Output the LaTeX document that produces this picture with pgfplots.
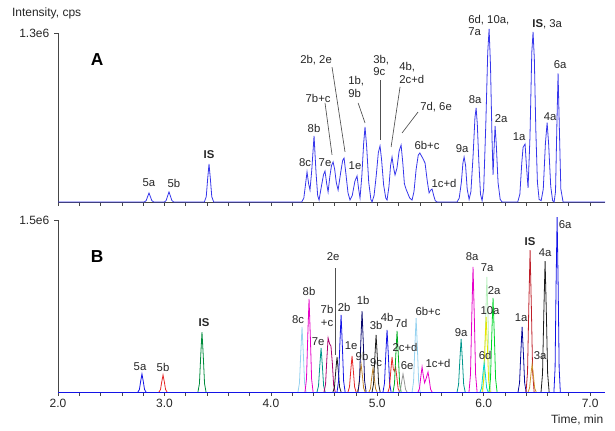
\documentclass[border=0pt]{standalone}
\usepackage{pgfplots}
\pgfplotsset{compat=1.18}
\usepackage{fontspec}
\setmainfont{Liberation Sans}
\definecolor{trA}{RGB}{55,55,235}
\definecolor{axc}{RGB}{70,70,70}
\definecolor{lead}{RGB}{80,80,80}
\definecolor{cblue}{RGB}{20,20,230}
\definecolor{cred}{RGB}{230,40,40}
\definecolor{cisg}{RGB}{0,140,60}
\definecolor{clblue}{RGB}{150,210,240}
\definecolor{cmag}{RGB}{230,0,200}
\definecolor{cteal}{RGB}{0,150,140}
\definecolor{cpurp}{RGB}{170,0,110}
\definecolor{cbrown}{RGB}{190,130,40}
\definecolor{cnavy}{RGB}{10,10,110}
\definecolor{cgray}{RGB}{150,150,150}
\definecolor{ccyan}{RGB}{0,215,215}
\definecolor{cyel}{RGB}{230,230,0}
\definecolor{cpale}{RGB}{185,240,190}
\definecolor{cgreen}{RGB}{0,215,40}
\definecolor{cdred}{RGB}{190,30,40}
\definecolor{corange}{RGB}{205,150,50}
\definecolor{cblk}{RGB}{30,30,30}

\tikzset{
  lbl/.style={font=\fontsize{8.5}{9.5}\selectfont, text=black!85, inner sep=0pt},
  pk/.style={line width=0.6pt},
}
\pgfplotsset{
  chrom/.style={
    scale only axis, width=410.25pt,
    xmin=2.0, xmax=7.14, ymin=0,
    axis x line=bottom, axis y line=left,
    axis line style={axc,-, line width=0.6pt},
    xtick={2,3,4,5,6,7}, minor x tick num=4,
    tick align=outside, tick style={axc, line width=0.5pt},
    major tick length=3pt, minor tick length=3pt,
    clip=false,
    tick label style={font=\fontsize{9}{10}\selectfont, text=black!85},
    xticklabel style={yshift=1.2pt},
  },
}

\begin{document}
\begin{tikzpicture}
\path[use as bounding box] (0,0) rectangle (461.25pt,323.25pt);
\node[anchor=west, font=\fontsize{9}{10}\selectfont, text=black!85] at (5.5pt,313.5pt) {Intensity, cps};
\node[anchor=east, font=\fontsize{9}{10}\selectfont, text=black!85] at (456pt,8.5pt) {Time, min};

% ---------------- Panel A ----------------
\begin{axis}[chrom, at={(43.5pt,171.75pt)}, anchor=south west,
  height=126.75pt, ymax=1.3,
  xticklabels={}, ytick={1.3}, yticklabels={1.3e6}]
\addplot[trA, line width=0.6pt] coordinates {
(2.0,0)(2.81,0)(2.828,0.01)(2.842,0.041)(2.855,0.069)(2.868,0.041)(2.882,0.01)(2.90,0)
(3.0,0)(3.016,0.011)(3.030,0.046)(3.043,0.077)(3.056,0.046)(3.070,0.011)(3.088,0)
(3.375,0)(3.393,0.041)(3.406,0.175)(3.419,0.292)(3.432,0.175)(3.445,0.041)(3.463,0)
(4.29,0)(4.31,0.03)(4.325,0.13)(4.34,0.231)(4.355,0.14)(4.368,0.092)(4.385,0.25)(4.406,0.508)
(4.425,0.22)(4.44,0.05)(4.453,0.015)(4.475,0.12)(4.495,0.21)(4.509,0.238)(4.525,0.14)(4.538,0.077)
(4.555,0.2)(4.57,0.28)(4.585,0.308)(4.60,0.25)(4.615,0.15)(4.632,0.092)(4.655,0.22)(4.675,0.32)
(4.688,0.338)(4.705,0.22)(4.725,0.07)(4.744,0.015)(4.765,0.05)(4.79,0.16)(4.81,0.20)(4.825,0.1)
(4.838,0.03)(4.855,0.2)(4.872,0.45)(4.885,0.577)(4.90,0.43)(4.92,0.15)(4.94,0.02)(4.951,0)
(4.97,0.05)(4.99,0.2)(5.01,0.38)(5.026,0.431)(5.04,0.33)(5.06,0.13)(5.08,0.03)(5.092,0.015)
(5.11,0.12)(5.125,0.28)(5.139,0.346)(5.152,0.27)(5.167,0.208)(5.185,0.26)(5.205,0.39)(5.224,0.438)
(5.24,0.3)(5.255,0.14)(5.27,0.1)(5.285,0.07)(5.305,0.03)(5.327,0.015)(5.345,0.08)(5.365,0.25)
(5.385,0.36)(5.40,0.377)(5.425,0.34)(5.449,0.30)(5.47,0.16)(5.487,0.07)(5.50,0.09)(5.515,0.10)
(5.53,0.05)(5.545,0.01)(5.562,0)
(5.75,0)(5.77,0.03)(5.79,0.15)(5.805,0.3)(5.816,0.346)(5.83,0.28)(5.845,0.1)(5.863,0.02)
(5.88,0.08)(5.90,0.35)(5.918,0.65)(5.929,0.723)(5.94,0.6)(5.955,0.3)(5.97,0.06)(5.985,0.01)
(6.0,0.1)(6.02,0.6)(6.038,1.15)(6.051,1.331)(6.064,1.05)(6.078,0.5)(6.088,0.208)(6.097,0.4)
(6.107,0.585)(6.118,0.45)(6.135,0.15)(6.155,0.02)(6.173,0)(6.32,0)(6.34,0.06)(6.358,0.3)
(6.370,0.42)(6.389,0.446)(6.40,0.3)(6.417,0.108)(6.435,0.5)(6.452,1.15)(6.464,1.308)(6.476,1.1)
(6.49,0.55)(6.505,0.15)(6.521,0.02)(6.54,0.01)(6.56,0.1)(6.58,0.45)(6.596,0.61)(6.61,0.45)
(6.63,0.12)(6.648,0.01)(6.662,0)(6.675,0.08)(6.688,0.6)(6.699,0.99)(6.71,0.6)(6.725,0.1)
(6.746,0)(7.14,0)};
% leader lines
\draw[lead, line width=0.5pt] (axis cs:4.509,0.762) -- (axis cs:4.575,0.362);
\draw[lead, line width=0.5pt] (axis cs:4.575,1.038) -- (axis cs:4.697,0.385);
\draw[lead, line width=0.5pt] (axis cs:4.82,0.762) -- (axis cs:4.885,0.608);
\draw[lead, line width=0.5pt] (axis cs:5.026,0.938) -- (axis cs:5.026,0.477);
\draw[lead, line width=0.5pt] (axis cs:5.214,0.885) -- (axis cs:5.130,0.423);
\draw[lead, line width=0.5pt] (axis cs:5.383,0.692) -- (axis cs:5.233,0.531);
% labels
\node[font=\fontsize{13}{14}\selectfont\bfseries] at (axis cs:2.367,1.092) {A};
\node[lbl] at (axis cs:2.855,0.146) {5a};
\node[lbl] at (axis cs:3.09,0.146) {5b};
\node[lbl, font=\fontsize{8.5}{9.5}\selectfont\bfseries] at (axis cs:3.419,0.362) {IS};
\node[lbl] at (axis cs:4.321,0.30) {8c};
\node[lbl] at (axis cs:4.406,0.569) {8b};
\node[lbl] at (axis cs:4.509,0.30) {7e};
\node[lbl] at (axis cs:4.444,0.80) {7b+c};
\node[lbl] at (axis cs:4.425,1.092) {2b, 2e};
\node[lbl, anchor=west, align=left] at (axis cs:4.726,0.885) {1b,\\9b};
\node[lbl] at (axis cs:4.791,0.277) {1e};
\node[lbl, anchor=west, align=left] at (axis cs:4.961,1.05) {3b,\\9c};
\node[lbl, anchor=west, align=left] at (axis cs:5.205,0.992) {4b,\\2c+d};
\node[lbl, anchor=west] at (axis cs:5.402,0.731) {7d, 6e};
\node[lbl] at (axis cs:5.468,0.438) {6b+c};
\node[lbl] at (axis cs:5.628,0.146) {1c+d};
\node[lbl] at (axis cs:5.797,0.408) {9a};
\node[lbl] at (axis cs:5.919,0.785) {8a};
\node[lbl, anchor=west, align=left] at (axis cs:5.853,1.358) {6d, 10a,\\7a};
\node[lbl] at (axis cs:6.164,0.638) {2a};
\node[lbl] at (axis cs:6.333,0.50) {1a};
\node[lbl, anchor=west] at (axis cs:6.455,1.369) {\textbf{IS}, 3a};
\node[lbl] at (axis cs:6.624,0.654) {4a};
\node[lbl] at (axis cs:6.718,1.054) {6a};
\end{axis}

% ---------------- Panel B ----------------
\begin{axis}[chrom, at={(43.5pt,29.25pt)}, anchor=south west,
  height=129pt, ymax=1.5,
  xticklabels={2.0,3.0,4.0,5.0,6.0,7.0}, ytick={1.5}, yticklabels={1.5e6}]
\addplot[pk,cblue] coordinates {(2.751,0)(2.765,0.022)(2.777,0.094)(2.789,0.157)(2.801,0.094)(2.813,0.022)(2.827,0)};
\addplot[pk,cred] coordinates {(2.949,0)(2.963,0.021)(2.975,0.089)(2.987,0.148)(2.999,0.089)(3.011,0.021)(3.025,0)};
\addplot[pk,cisg] coordinates {(3.315,0)(3.329,0.073)(3.341,0.314)(3.353,0.523)(3.365,0.314)(3.377,0.073)(3.391,0)};
\addplot[pk,clblue] coordinates {(4.255,0)(4.269,0.079)(4.281,0.34)(4.293,0.567)(4.305,0.34)(4.317,0.079)(4.331,0)};
\addplot[pk,cmag] coordinates {(4.321,0)(4.335,0.114)(4.347,0.487)(4.359,0.811)(4.371,0.487)(4.383,0.114)(4.397,0)};
\addplot[pk,cteal] coordinates {(4.434,0)(4.448,0.054)(4.46,0.23)(4.472,0.384)(4.484,0.23)(4.496,0.054)(4.51,0)};
\addplot[pk,cpurp] coordinates {(4.50,0)(4.514,0.066)(4.526,0.283)(4.538,0.471)(4.552,0.42)(4.565,0.40)(4.578,0.25)(4.59,0.06)(4.605,0)};
\addplot[pk,cblk] coordinates {(4.584,0)(4.598,0.043)(4.61,0.183)(4.622,0.305)(4.634,0.183)(4.646,0.043)(4.66,0)};
\addplot[pk,cblue] coordinates {(4.622,0)(4.636,0.094)(4.648,0.403)(4.66,0.672)(4.672,0.403)(4.684,0.094)(4.698,0)};
\addplot[pk,cred] coordinates {(4.725,0)(4.739,0.044)(4.751,0.188)(4.763,0.314)(4.775,0.188)(4.787,0.044)(4.801,0)};
\addplot[pk,cbrown] coordinates {(4.81,0)(4.824,0.034)(4.836,0.146)(4.848,0.244)(4.86,0.146)(4.872,0.034)(4.886,0)};
\addplot[pk,cnavy] coordinates {(4.819,0)(4.833,0.099)(4.845,0.424)(4.857,0.706)(4.869,0.424)(4.881,0.099)(4.895,0)};
\addplot[pk,cbrown] coordinates {(4.922,0)(4.936,0.029)(4.948,0.125)(4.96,0.209)(4.972,0.125)(4.984,0.029)(4.998,0)};
\addplot[pk,cblk] coordinates {(4.951,0)(4.965,0.07)(4.977,0.298)(4.989,0.497)(5.001,0.298)(5.013,0.07)(5.027,0)};
\addplot[pk,cblue] coordinates {(5.054,0)(5.068,0.076)(5.08,0.325)(5.092,0.541)(5.104,0.325)(5.116,0.076)(5.13,0)};
\addplot[pk,cred] coordinates {(5.101,0)(5.115,0.043)(5.127,0.183)(5.139,0.305)(5.151,0.2)(5.16,0.18)(5.172,0.218)(5.184,0.13)(5.196,0.03)(5.21,0)};
\addplot[pk,cgreen!80!black] coordinates {(5.148,0)(5.162,0.074)(5.174,0.319)(5.186,0.532)(5.198,0.319)(5.21,0.074)(5.224,0)};
\addplot[pk,cgray] coordinates {(5.204,0)(5.218,0.022)(5.23,0.094)(5.242,0.157)(5.254,0.094)(5.266,0.022)(5.28,0)};
\addplot[pk,clblue] coordinates {(5.327,0)(5.341,0.09)(5.353,0.387)(5.365,0.645)(5.377,0.387)(5.389,0.09)(5.403,0)};
\addplot[pk,cmag] coordinates {(5.383,0)(5.397,0.031)(5.409,0.131)(5.421,0.218)(5.433,0.14)(5.445,0.08)(5.46,0.12)(5.477,0.174)(5.489,0.104)(5.501,0.024)(5.515,0)};
\addplot[pk,cteal] coordinates {(5.75,0)(5.764,0.065)(5.776,0.277)(5.788,0.462)(5.8,0.277)(5.812,0.065)(5.826,0)};
\addplot[pk,cmag] coordinates {(5.862,0)(5.876,0.153)(5.888,0.654)(5.9,1.09)(5.912,0.654)(5.924,0.153)(5.938,0)};
\addplot[pk,cpale] coordinates {(5.992,0)(6.006,0.14)(6.018,0.602)(6.03,1.003)(6.042,0.602)(6.054,0.14)(6.068,0)};
\addplot[pk,cyel] coordinates {(5.985,0)(5.999,0.092)(6.011,0.392)(6.023,0.654)(6.035,0.392)(6.047,0.092)(6.061,0)};
\addplot[pk,ccyan] coordinates {(5.966,0)(5.98,0.035)(5.992,0.152)(6.004,0.253)(6.016,0.152)(6.028,0.035)(6.042,0)};
\addplot[pk,cgreen] coordinates {(6.05,0)(6.064,0.115)(6.076,0.492)(6.088,0.82)(6.1,0.492)(6.112,0.115)(6.126,0)};
\addplot[pk,cnavy!70!blue] coordinates {(6.323,0)(6.337,0.079)(6.349,0.34)(6.361,0.567)(6.373,0.34)(6.385,0.079)(6.399,0)};
\addplot[pk,cdred] coordinates {(6.398,0)(6.412,0.173)(6.424,0.743)(6.436,1.238)(6.448,0.743)(6.46,0.173)(6.474,0)};
\addplot[pk,corange] coordinates {(6.417,0)(6.431,0.034)(6.443,0.146)(6.455,0.244)(6.467,0.146)(6.479,0.034)(6.493,0)};
\addplot[pk,cblk] coordinates {(6.539,0)(6.553,0.16)(6.565,0.685)(6.577,1.142)(6.589,0.685)(6.601,0.16)(6.615,0)};
\addplot[pk,cblue] coordinates {(6.66,0)(6.671,0.214)(6.68,0.916)(6.69,1.526)(6.70,0.916)(6.709,0.214)(6.72,0)};
\addplot[pk,cblue] coordinates {(2.0,0)(7.14,0)};
\draw[lead, line width=0.5pt] (axis cs:4.603,1.081) -- (axis cs:4.603,0.323);
\node[font=\fontsize{13}{14}\selectfont\bfseries] at (axis cs:2.367,1.177) {B};
\node[lbl] at (axis cs:2.771,0.218) {5a};
\node[lbl] at (axis cs:2.987,0.218) {5b};
\node[lbl, font=\fontsize{8.5}{9.5}\selectfont\bfseries] at (axis cs:3.372,0.602) {IS};
\node[lbl] at (axis cs:4.256,0.628) {8c};
\node[lbl] at (axis cs:4.359,0.881) {8b};
\node[lbl] at (axis cs:4.444,0.436) {7e};
\node[lbl, align=center] at (axis cs:4.528,0.663) {7b\\+c};
\node[lbl] at (axis cs:4.585,1.177) {2e};
\node[lbl] at (axis cs:4.688,0.741) {2b};
\node[lbl] at (axis cs:4.867,0.802) {1b};
\node[lbl] at (axis cs:4.754,0.401) {1e};
\node[lbl] at (axis cs:4.857,0.314) {9b};
\node[lbl] at (axis cs:4.989,0.576) {3b};
\node[lbl] at (axis cs:4.989,0.253) {9c};
\node[lbl] at (axis cs:5.092,0.654) {4b};
\node[lbl] at (axis cs:5.224,0.602) {7d};
\node[lbl] at (axis cs:5.261,0.392) {2c+d};
\node[lbl] at (axis cs:5.28,0.227) {6e};
\node[lbl] at (axis cs:5.477,0.706) {6b+c};
\node[lbl] at (axis cs:5.571,0.253) {1c+d};
\node[lbl] at (axis cs:5.788,0.515) {9a};
\node[lbl] at (axis cs:5.891,1.177) {8a};
\node[lbl] at (axis cs:6.032,1.081) {7a};
\node[lbl] at (axis cs:6.098,0.881) {2a};
\node[lbl] at (axis cs:6.06,0.706) {10a};
\node[lbl] at (axis cs:6.013,0.323) {6d};
\node[lbl] at (axis cs:6.352,0.645) {1a};
\node[lbl, font=\fontsize{8.5}{9.5}\selectfont\bfseries] at (axis cs:6.436,1.308) {IS};
\node[lbl] at (axis cs:6.53,0.314) {3a};
\node[lbl] at (axis cs:6.577,1.212) {4a};
\node[lbl] at (axis cs:6.765,1.456) {6a};
\end{axis}
\end{tikzpicture}
\end{document}
